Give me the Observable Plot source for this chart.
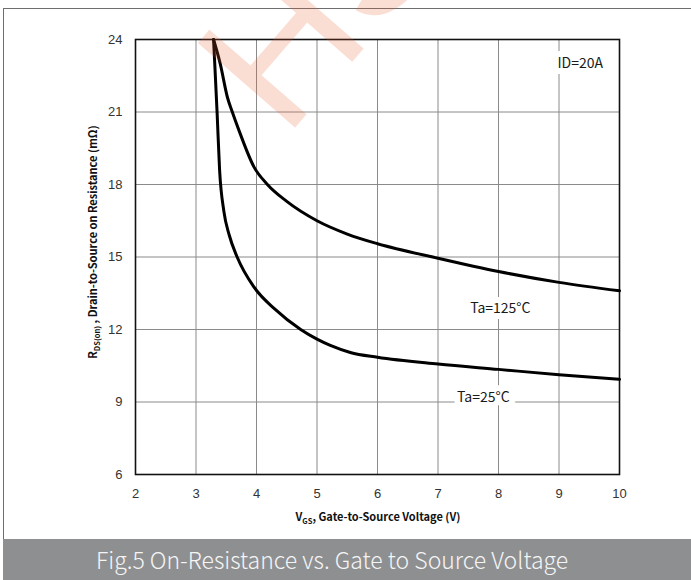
<!DOCTYPE html>
<html>
<head>
<meta charset="utf-8">
<script src="https://cdn.jsdelivr.net/npm/d3@7"></script>
<script src="https://cdn.jsdelivr.net/npm/@observablehq/plot@0.6"></script>
<style>
  html, body { margin: 0; padding: 0; background: #fff; overflow: hidden; }
  #page { position: relative; width: 691px; height: 580px; overflow: hidden; }
  #border { position: absolute; left: 3px; top: 8px; width: 720px; height: 620px; border: 1.5px solid #6e6e6e; box-sizing: border-box; }
  #chart { position: absolute; left: 0; top: 0; }
  #caption { position: absolute; left: 3px; top: 539px; width: 700px; height: 45px; background: #8e8f91;
    color: #f5f5f5; font-family: "Noto Sans CJK SC", "Noto Sans", sans-serif; font-weight: 300; font-size: 23px;
    line-height: 41px; white-space: nowrap; }
  #caption span { position: absolute; left: 93px; top: 0px; }
  #wm { position: absolute; left: 0; top: 0; pointer-events: none; }
</style>
</head>
<body>
<div id="page">
  <div id="border"></div>
  <div id="chart"></div>
  <div id="caption"><span>Fig.5 On-Resistance vs. Gate to Source Voltage</span></div>
  <svg id="wm" width="691" height="580"></svg>
</div>
<script>
// Tick values
const xTicks = [2, 3, 4, 5, 6, 7, 8, 9, 10];
const yTicks = [6, 9, 12, 15, 18, 21, 24];

// Ta = 125°C curve
const vgs125 = [3.29, 3.40, 3.52, 3.60, 3.71, 3.96, 4.18, 4.5, 5.0, 5.5, 6, 7, 8, 9, 10];
const rds125 = [24, 23.0, 21.6, 21.0, 20.24, 18.72, 18.0, 17.3, 16.5, 15.95, 15.55, 14.95, 14.4, 13.95, 13.6];

// Ta = 25°C curve
const vgs25 = [3.29, 3.31, 3.35, 3.39, 3.46, 3.55, 3.68, 3.96, 4.3, 4.73, 5.0, 5.22, 5.55, 6, 7, 8, 9, 10];
const rds25 = [24, 23.0, 20.9, 18.6, 16.9, 15.9, 15.0, 13.75, 12.85, 12.0, 11.6, 11.34, 11.05, 10.85, 10.57, 10.35, 10.13, 9.94];

// Annotations
const labelText = ["Ta=125°C", "Ta=25°C", "ID=20A"];
const labelX = [8.03, 7.75, 9.35];
const labelY = [12.87, 9.19, 23.0];

const curve125 = vgs125.map((x, i) => ({x, y: rds125[i]}));
const curve25 = vgs25.map((x, i) => ({x, y: rds25[i]}));
const labels = labelText.map((t, i) => ({t, x: labelX[i], y: labelY[i]}));

const svg = Plot.plot({
  width: 691,
  height: 539,
  marginTop: 39,
  marginLeft: 135,
  marginRight: 72,
  marginBottom: 65,
  style: {background: "transparent", fontFamily: "'Liberation Sans Narrow', 'Liberation Sans', sans-serif", fontSize: "13px", color: "#333"},
  x: {domain: [2, 10], ticks: xTicks, tickSize: 0, tickPadding: 14, label: null},
  y: {domain: [6, 24], ticks: yTicks, tickSize: 0, tickPadding: 13, label: null},
  marks: [
    Plot.ruleX(xTicks, {stroke: "#8a8a8a", strokeWidth: 1}),
    Plot.ruleY(yTicks, {stroke: "#8a8a8a", strokeWidth: 1}),
    Plot.frame({stroke: "#111", strokeWidth: 1.6}),
    Plot.line(curve125, {x: "x", y: "y", stroke: "#000", strokeWidth: 3, curve: "monotone-x"}),
    Plot.line(curve25, {x: "x", y: "y", stroke: "#000", strokeWidth: 3, curve: "monotone-x"}),
    Plot.text(labels, {x: "x", y: "y", text: "t", fill: "#1a1a1a", stroke: "white", strokeWidth: 12,
      fontSize: 14, fontFamily: "'Noto Sans CJK SC', 'Noto Sans', sans-serif"})
  ]
});
document.getElementById("chart").appendChild(svg);

// Axis titles with subscripts
const s = d3.select(svg);
const yt = s.append("text")
  .attr("transform", "translate(97,242) rotate(-90)")
  .attr("text-anchor", "middle")
  .attr("font-family", "'Noto Sans CJK SC', 'Noto Sans', sans-serif")
  .attr("font-weight", "bold").attr("font-size", 11).attr("fill", "#111");
yt.append("tspan").text("R");
yt.append("tspan").attr("font-size", 7.5).attr("dy", 3).text("DS(on)");
yt.append("tspan").attr("dy", -3).text(" , Drain-to-Source on Resistance (mΩ)");

const xt = s.append("text")
  .attr("transform", "translate(378,521)")
  .attr("text-anchor", "middle")
  .attr("font-family", "'Noto Sans CJK SC', 'Noto Sans', sans-serif")
  .attr("font-weight", "bold").attr("font-size", 11).attr("fill", "#111");
xt.append("tspan").text("V");
xt.append("tspan").attr("font-size", 7.5).attr("dy", 3).text("GS");
xt.append("tspan").attr("dy", -3).text(", Gate-to-Source Voltage (V)");

// Watermark overlay
d3.select("#wm").append("text")
  .attr("transform", "translate(285,139) rotate(-49)")
  .attr("font-family", "'Liberation Sans Narrow', 'Liberation Sans', sans-serif")
  .attr("font-size", 187)
  .attr("fill", "#e85a2a").attr("opacity", 0.2)
  .text("HS");
</script>
</body>
</html>
